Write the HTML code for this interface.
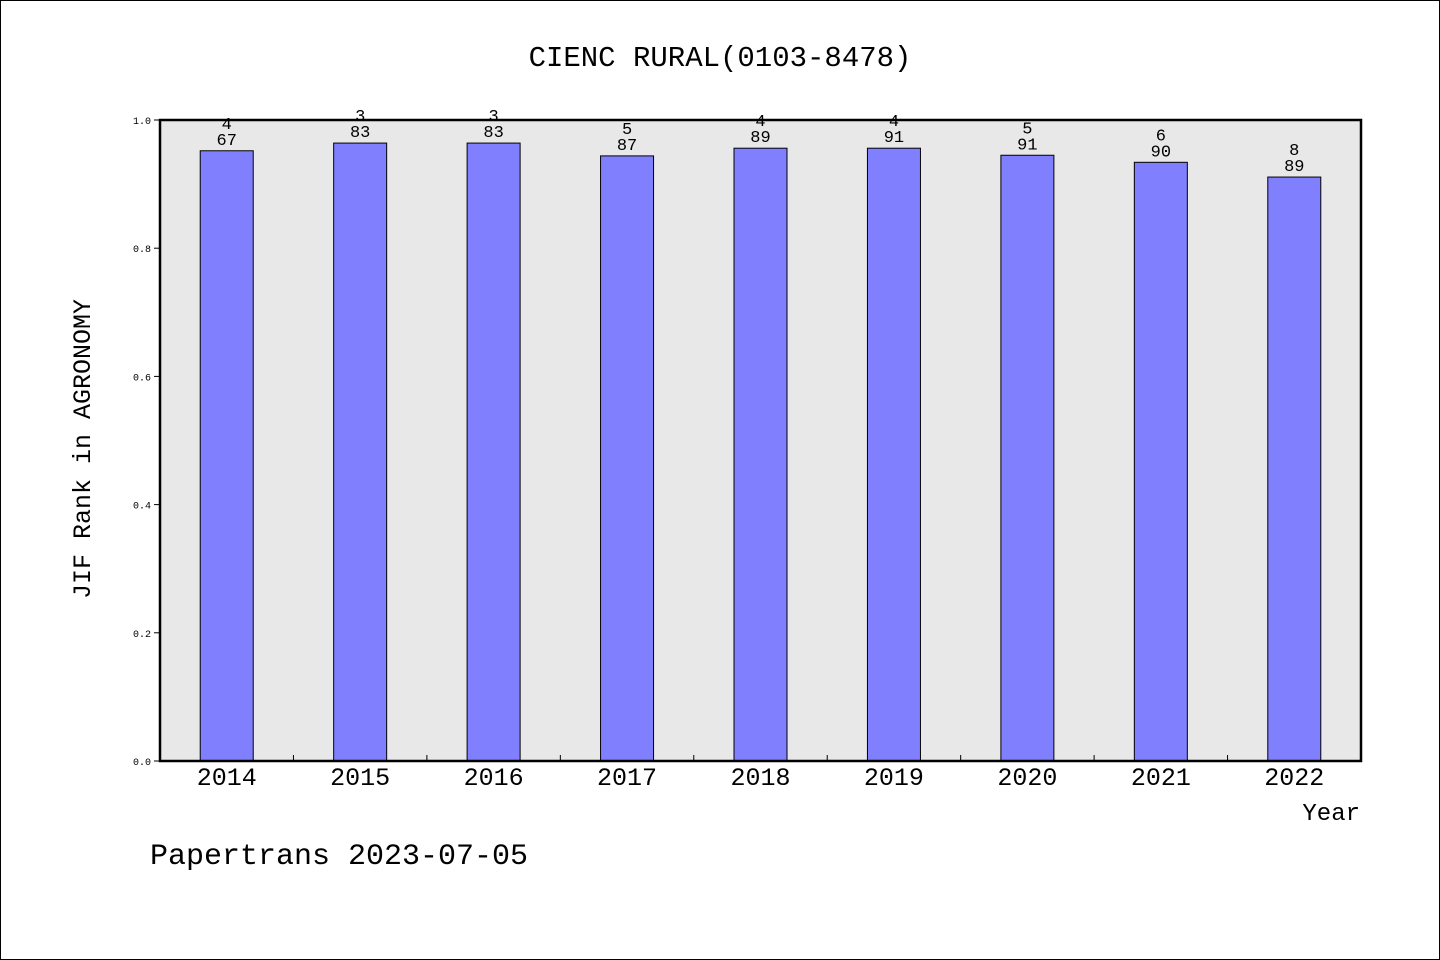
<!DOCTYPE html>
<html><head><meta charset="utf-8"><style>
html,body{margin:0;padding:0;background:#fff}
svg{display:block}
text{font-family:"Liberation Mono",monospace;fill:#000}
</style></head><body>
<svg id="chart" width="1440" height="960" xmlns="http://www.w3.org/2000/svg">
<rect x="0.5" y="0.5" width="1439" height="959" fill="#fff" stroke="#000"/>
<text x="720" y="66" font-size="29" text-anchor="middle">CIENC RURAL(0103-8478)</text>
<rect x="160" y="120" width="1201" height="641" fill="#e8e8e8"/>
<g id="bars"></g>
<g id="yaxis"></g>
<g id="xaxis"></g>
<rect x="160" y="120" width="1201" height="641" fill="none" stroke="#000" stroke-width="2.5"/>
<text transform="translate(90,449) rotate(-90)" font-size="25" text-anchor="middle">JIF Rank in AGRONOMY</text>
<text x="1360" y="820" font-size="24" text-anchor="end">Year</text>
<text x="150" y="864" font-size="30">Papertrans 2023-07-05</text>
</svg>
<script>
const years=["2014","2015","2016","2017","2018","2019","2020","2021","2022"];
const values=[0.952,0.964,0.964,0.944,0.956,0.956,0.945,0.934,0.911];
const ranks=["4","3","3","5","4","4","5","6","8"];
const totals=["67","83","83","87","89","91","91","90","89"];
const yTicks=["0.0","0.2","0.4","0.6","0.8","1.0"];
const NS="http://www.w3.org/2000/svg";
const X0=160,X1=1361,Y0=761,Y1=120;
const bw=(X1-X0)/years.length;
const y=v=>Y0-(Y0-Y1)*v;
const x=i=>X0+bw*(i+0.5);
function mk(t,a,p){const e=document.createElementNS(NS,t);for(const k in a)e.setAttribute(k,a[k]);p.appendChild(e);return e;}
const gb=document.getElementById('bars'),gy=document.getElementById('yaxis'),gx=document.getElementById('xaxis');
years.forEach((yr,i)=>{
 const r=mk('rect',{x:x(i)-26.5,y:y(values[i]),width:53,height:Y0-y(values[i]),fill:'#8080ff',stroke:'#000','stroke-width':1},gb);
 
 
 const t1=mk('text',{x:x(i),y:y(values[i])-22,'font-size':17,'text-anchor':'middle'},gb);t1.textContent=ranks[i];
 
 
 const t2=mk('text',{x:x(i),y:y(values[i])-6,'font-size':17,'text-anchor':'middle'},gb);t2.textContent=totals[i];
 
 
 const tl=mk('text',{x:x(i),y:785,'font-size':25,'text-anchor':'middle'},gx);tl.textContent=yr;
 
 
 if(i>0){const tk=mk('line',{x1:X0+bw*i,x2:X0+bw*i,y1:Y0,y2:Y0-6,stroke:'#000'},gx);
 
 }
});
yTicks.forEach(s=>{
 const v=parseFloat(s);
 const tk=mk('line',{x1:X0-6,x2:X0,y1:y(v),y2:y(v),stroke:'#000'},gy);
 
 
 const t=mk('text',{x:X0-9,y:y(v)+4,'font-size':10,'text-anchor':'end'},gy);t.textContent=s;
 
 
});
</script>
</body></html>
